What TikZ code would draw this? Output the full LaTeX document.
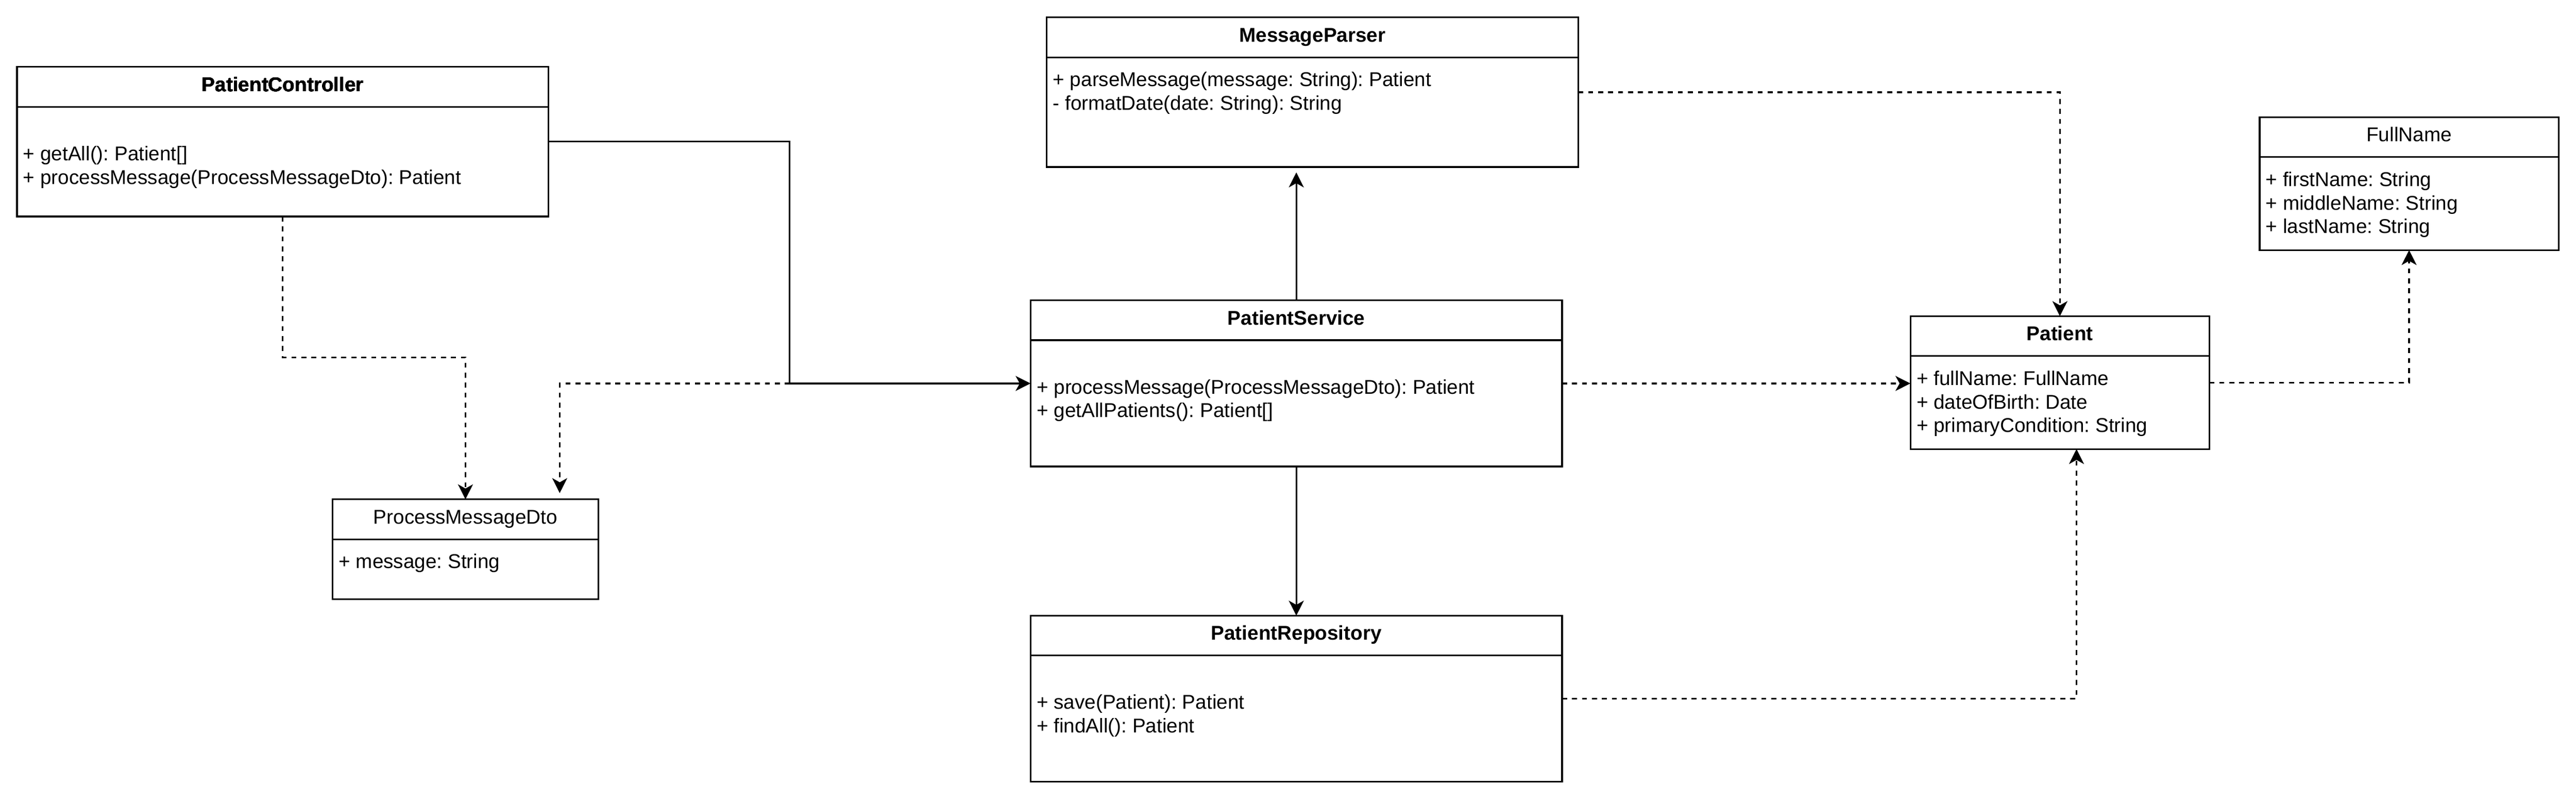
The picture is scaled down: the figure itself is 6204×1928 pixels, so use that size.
\documentclass[tikz,border=0pt]{standalone}
\usepackage{fontspec}
\setmainfont{Liberation Sans}
\frenchspacing
\usetikzlibrary{arrows.meta,calc}
\tikzset{>={Stealth[length=9bp,width=9bp,inset=2.5bp]}}
\tikzset{
  classbox/.style={draw, line width=1bp, outer sep=0pt, inner sep=0pt},
  member/.style={anchor=base west, inner sep=0pt, font=\fontsize{12bp}{14.4bp}\selectfont},
  title/.style={anchor=base, inner sep=0pt, font=\fontsize{12bp}{14.4bp}\selectfont\bfseries},
  plaintitle/.style={title, font=\fontsize{12bp}{14.4bp}\selectfont},
  assoc/.style={->, line width=1bp},
  dep/.style={->, line width=1bp, dash pattern=on 3bp off 3bp},
}
\newcommand{\headline}[1]{\draw[line width=1bp] ($(#1.north west)+(0,96)$) -- ($(#1.north east)+(0,96)$);}

\begin{document}
\begin{tikzpicture}[x=0.25bp, y=-0.25bp]
    \useasboundingbox (0,0) rectangle (6204,1928);
    % classes
    \node[classbox, minimum width=320bp, minimum height=90bp] (PC) at (681,341) {};
    \node[classbox, minimum width=160bp, minimum height=60bp] (PMD) at (1121,1322) {};
    \node[classbox, minimum width=320bp, minimum height=90bp] (MP) at (3161,222) {};
    \node[classbox, minimum width=320bp, minimum height=100bp] (PS) at (3122,923) {};
    \node[classbox, minimum width=320bp, minimum height=100bp] (PR) at (3122,1682) {};
    \node[classbox, minimum width=180bp, minimum height=80bp] (PT) at (4961,921) {};
    \node[classbox, minimum width=180bp, minimum height=80bp] (FN) at (5802,442) {};
    \foreach \c in {PC,PMD,MP,PS,PR,PT,FN}
    \headline{\c}
    % titles
    \node[title] at ($(PC.north)+(0,59)$) {PatientController};
    \node[plaintitle] at ($(PMD.north)+(0,59)$) {ProcessMessageDto};
    \node[title] at ($(MP.north)+(0,59)$) {MessageParser};
    \node[title] at ($(PS.north)+(0,59)$) {PatientService};
    \node[title] at ($(PR.north)+(0,59)$) {PatientRepository};
    \node[title] at ($(PT.north)+(0,59)$) {Patient};
    \node[plaintitle] at ($(FN.north)+(0,59)$) {FullName};
    % members
    \node[member] at ($(PC.north west)+(14,225)$) {+ getAll(): Patient[]};
    \node[member] at ($(PC.north west)+(14,282)$) {+ processMessage(ProcessMessageDto): Patient};
    \node[member] at ($(PMD.north west)+(14,166)$) {+ message: String};
    \node[member] at ($(MP.north west)+(14,166)$) {+ parseMessage(message: String): Patient};
    \node[member] at ($(MP.north west)+(14,223)$) {- formatDate(date: String): String};
    \node[member] at ($(PS.north west)+(14,225)$) {+ processMessage(ProcessMessageDto): Patient};
    \node[member] at ($(PS.north west)+(14,282)$) {+ getAllPatients(): Patient[]};
    \node[member] at ($(PR.north west)+(14,225)$) {+ save(Patient): Patient};
    \node[member] at ($(PR.north west)+(14,282)$) {+ findAll(): Patient};
    \node[member] at ($(PT.north west)+(14,166)$) {+ fullName: FullName};
    \node[member] at ($(PT.north west)+(14,223)$) {+ dateOfBirth: Date};
    \node[member] at ($(PT.north west)+(14,280)$) {+ primaryCondition: String};
    \node[member] at ($(FN.north west)+(14,166)$) {+ firstName: String};
    \node[member] at ($(FN.north west)+(14,223)$) {+ middleName: String};
    \node[member] at ($(FN.north west)+(14,280)$) {+ lastName: String};
    % connectors
    \path (PS.west) ++(-580,0) coordinate (J);
    \draw[assoc] (PC.east) -| (J) -- (PS.west);
    \draw[dep, shorten >=3.75bp] (J) -| ($(PMD.north)+(227,0)$);
    \draw[dep] (PC.south) -- ++(0,339) -| (PMD.north);
    \draw[assoc, shorten >=3.25bp] (PS.north) -- (PS.north |- MP.south);
    \draw[assoc] (PS.south) -- (PR.north);
    \draw[dep] (MP.east) -| (PT.north);
    \draw[dep] (PS.east) -- (PS.east -| PT.west);
    \draw[dep] (PT.east) -| (FN.south);
    \draw[dep] (PR.east) -| ($(PT.south)+(40,0)$);
\end{tikzpicture}
\end{document}
